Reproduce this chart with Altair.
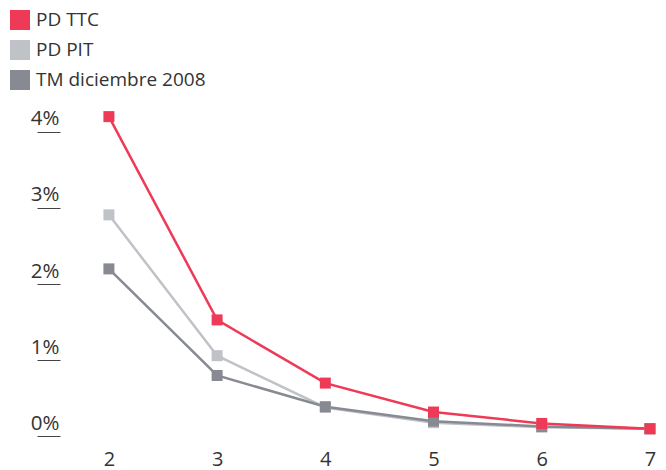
import altair as alt
import pandas as pd

ratings = [2, 3, 4, 5, 6, 7]
series_names = ["PD TTC", "PD PIT", "TM diciembre 2008"]
pd_ttc = [4.20, 1.53, 0.70, 0.32, 0.17, 0.10]
pd_pit = [2.91, 1.06, 0.38, 0.18, 0.12, 0.10]
tm_2008 = [2.20, 0.80, 0.39, 0.20, 0.13, 0.10]
colors = ["#EE3A56", "#BFC2C7", "#878A92"]
y_ticks = [0, 1, 2, 3, 4]

rows = []
for name, vals in zip(series_names, [pd_ttc, pd_pit, tm_2008]):
    for r, v in zip(ratings, vals):
        rows.append({"rating": r, "value": v, "serie": name})
df = pd.DataFrame(rows)

FONT = "Open Sans"

x_enc = alt.X(
    "rating:Q",
    scale=alt.Scale(domain=[1.548, 7.093], nice=False, zero=False),
    axis=alt.Axis(
        values=ratings, title=None, grid=False, domain=False, ticks=False,
        labelFontSize=20, labelColor="#333333", labelFont=FONT,
        labelPadding=5, labelFlush=False,
    ),
)
y_enc = alt.Y(
    "value:Q",
    scale=alt.Scale(domain=[-0.1, 4.3], nice=False, zero=False),
    axis=alt.Axis(
        values=y_ticks, title=None, grid=False, domain=False,
        ticks=True, tickSize=23, tickColor="#444444", tickWidth=1,
        labelExpr="datum.value + '%'", labelFontSize=20.5, labelColor="#333333",
        labelFont=FONT, labelPadding=-22, labelAlign="right",
        labelBaseline="alphabetic", labelOffset=-7, labelFlush=False,
        labelOverlap=False,
    ),
)
color_enc = alt.Color(
    "serie:N",
    scale=alt.Scale(domain=series_names, range=colors),
    legend=alt.Legend(
        title=None, orient="none", legendX=-50, legendY=-99,
        symbolType="square", symbolSize=400, symbolStrokeWidth=0,
        symbolOpacity=1, labelFontSize=19, labelFont=FONT,
        labelColor="#333333", labelOffset=6, rowPadding=10, padding=0,
        labelLimit=300,
    ),
)

layers = []
for name in ["PD PIT", "TM diciembre 2008", "PD TTC"]:
    sub = df[df["serie"] == name]
    base = alt.Chart(sub).encode(x=x_enc, y=y_enc, color=color_enc)
    layers.append(base.mark_line(strokeWidth=2.5))
for name in ["PD PIT", "TM diciembre 2008", "PD TTC"]:
    sub = df[df["serie"] == name]
    base = alt.Chart(sub).encode(x=x_enc, y=y_enc, color=color_enc)
    layers.append(base.mark_square(size=121, opacity=1))

chart = alt.layer(*layers).properties(
    width=600, height=335,
    autosize=alt.AutoSizeParams(type="none"),
    padding={"left": 60, "top": 109, "right": 6, "bottom": 26},
).configure(
    font=FONT, background="white", view=alt.ViewConfig(stroke=None)
)

chart.save("out.html", embed_options={"renderer": "svg", "actions": False})
